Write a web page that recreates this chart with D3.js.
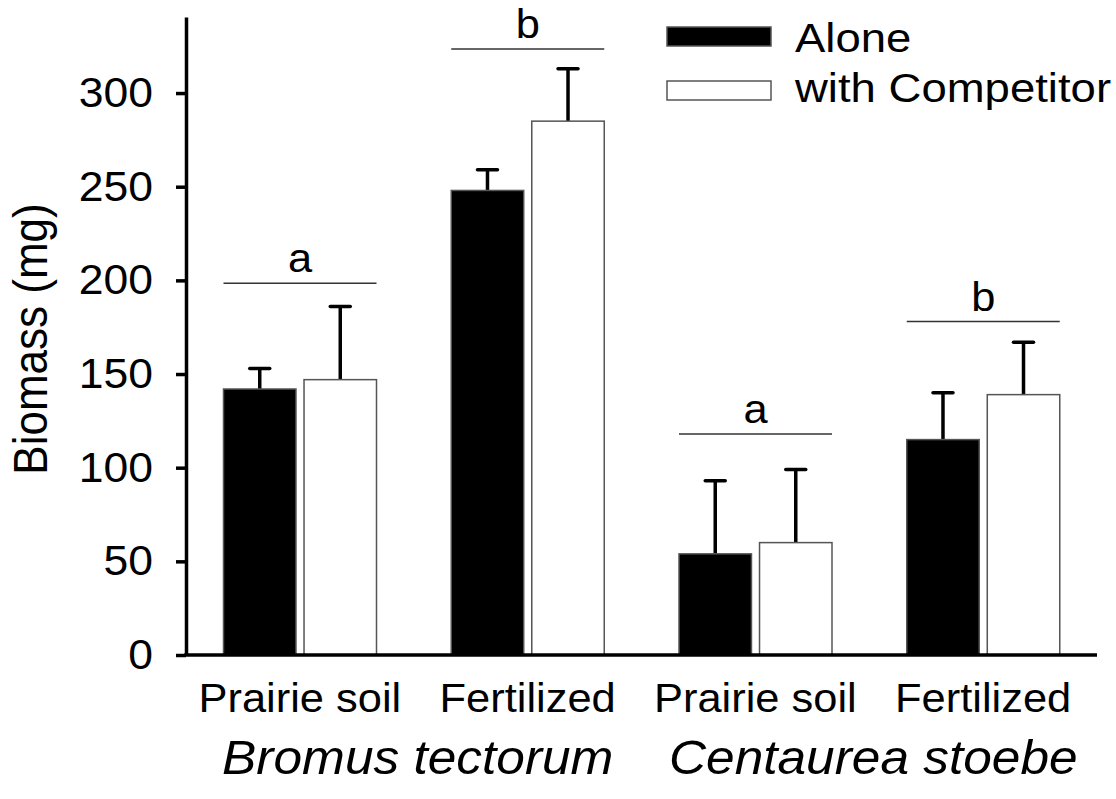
<!DOCTYPE html>
<html>
<head>
<meta charset="utf-8">
<script src="https://cdn.jsdelivr.net/npm/d3@7"></script>
<style>
	body { margin: 0; background: #fff; }
	text { font-family: "Liberation Sans", Arial, sans-serif; fill: #000; }
</style>
</head>
<body>
<div id="chart"></div>
<script>
// data
var groups = ["bt-prairie", "bt-fert", "cs-prairie", "cs-fert"];
var groupLabels = ["Prairie soil", "Fertilized", "Prairie soil", "Fertilized"];
var series = ["Alone", "with Competitor"];
var alone = [142, 248, 54, 115];
var aloneErr = [11, 11, 39, 25];
var competitor = [147, 285, 60, 139];
var competitorErr = [39, 28, 39, 28];
var sigLetters = ["a", "b", "a", "b"];
var sigLevel = [198.5, 323.5, 118, 178];
var species = ["Bromus tectorum", "Centaurea stoebe"];
var yTicks = [0, 50, 100, 150, 200, 250, 300];

function draw() {
	var width = 1116,
		height = 799;
	var mLeft = 186, mRight = 1097, mTop = 17, mBottom = 655;

	var svg = d3.select("#chart")
		.append("svg")
		.attr("width", width)
		.attr("height", height);

	var y = d3.scaleLinear().domain([0, 340.6]).range([mBottom, mTop]);
	var x0 = d3.scaleBand().domain(groups).range([mLeft, mRight]);
	var x1 = d3.scaleBand().domain(series).range([37.5, 190.5]).paddingInner(0.1);
	var fills = {"Alone": "#000", "with Competitor": "#fff"};

	// one row per bar
	var bars = [];
	groups.forEach(function (g, i) {
		bars.push({group: g, s: "Alone", v: alone[i], e: aloneErr[i]});
		bars.push({group: g, s: "with Competitor", v: competitor[i], e: competitorErr[i]});
	});

	var mid = function (d) { return x0(d.group) + x1(d.s) + x1.bandwidth() / 2; };

	// error bars (up only)
	svg.selectAll(".err")
		.data(bars)
		.enter()
		.append("line")
		.attr("x1", mid)
		.attr("x2", mid)
		.attr("y1", function (d) { return y(d.v); })
		.attr("y2", function (d) { return y(d.v + d.e); })
		.attr("stroke", "#000")
		.attr("stroke-width", 3.5);
	svg.selectAll(".cap")
		.data(bars)
		.enter()
		.append("line")
		.attr("x1", function (d) { return mid(d) - 10; })
		.attr("x2", function (d) { return mid(d) + 10; })
		.attr("y1", function (d) { return y(d.v + d.e); })
		.attr("y2", function (d) { return y(d.v + d.e); })
		.attr("stroke", "#000")
		.attr("stroke-width", 3.5)
		.attr("stroke-linecap", "round");

	svg.selectAll(".bar")
		.data(bars)
		.enter()
		.append("rect")
		.attr("x", function (d) { return x0(d.group) + x1(d.s); })
		.attr("y", function (d) { return y(d.v); })
		.attr("width", x1.bandwidth())
		.attr("height", function (d) { return y(0) - y(d.v); })
		.attr("fill", function (d) { return fills[d.s]; })
		.attr("stroke", "#555")
		.attr("stroke-width", 1.5);

	// significance lines + letters
	groups.forEach(function (grp, i) {
		var xa = x0(grp) + x1("Alone");
		var xb = x0(grp) + x1("with Competitor") + x1.bandwidth();
		svg.append("line")
			.attr("x1", xa).attr("x2", xb)
			.attr("y1", y(sigLevel[i])).attr("y2", y(sigLevel[i]))
			.attr("stroke", "#333")
			.attr("stroke-width", 1.5);
		svg.append("text")
			.attr("transform", "translate(" + (xa + xb) / 2 + "," + (y(sigLevel[i]) - 11) + ") scale(1.06,1)")
			.attr("text-anchor", "middle")
			.style("font-size", "41px")
			.text(sigLetters[i]);
	});

	// y axis
	var yAxis = svg.append("g")
		.attr("transform", "translate(" + mLeft + ",0)")
		.call(d3.axisLeft(y).tickValues(yTicks).tickSize(10).tickSizeOuter(0).tickPadding(23));
	yAxis.select(".domain").attr("stroke-width", 3.5);
	yAxis.selectAll(".tick line").attr("stroke-width", 3.5);
	yAxis.selectAll(".tick text")
		.style("font-size", "42px")
		.attr("font-family", null)
		.attr("transform", "scale(1.06,1)")
		.attr("x", -33 / 1.06);

	// x axis line
	svg.append("line")
		.attr("x1", mLeft - 1.75).attr("x2", mRight)
		.attr("y1", y(0)).attr("y2", y(0))
		.attr("stroke", "#000")
		.attr("stroke-width", 3.5);

	// group labels
	svg.selectAll(".glab")
		.data(groups)
		.enter()
		.append("text")
		.attr("transform", function (d) { return "translate(" + (x0(d) + x0.bandwidth() / 2) + ",712) scale(1.06,1)"; })
		.attr("text-anchor", "middle")
		.style("font-size", "41px")
		.text(function (d, i) { return groupLabels[i]; });

	// species labels
	svg.selectAll(".spec")
		.data(species)
		.enter()
		.append("text")
		.attr("transform", function (d, i) {
			var cx = (x0(groups[i * 2]) + x0(groups[i * 2 + 1]) + x0.bandwidth()) / 2 + 4;
			return "translate(" + cx + ",774) scale(1.06,1)";
		})
		.attr("text-anchor", "middle")
		.style("font-size", "48.5px")
		.style("font-style", "italic")
		.text(function (d) { return d; });

	// y title
	svg.append("text")
		.attr("transform", "translate(47,339) scale(1.08,1) rotate(-90)")
		.attr("text-anchor", "middle")
		.style("font-size", "44px")
		.text("Biomass (mg)");

	// legend
	var legend = svg.selectAll(".legend")
		.data(series)
		.enter()
		.append("g");
	legend.append("rect")
		.attr("x", 667)
		.attr("y", function (d, i) { return 27 + i * 54; })
		.attr("width", 104)
		.attr("height", 19)
		.attr("fill", function (d) { return fills[d]; })
		.attr("stroke", "#555")
		.attr("stroke-width", 1.5);
	legend.append("text")
		.attr("transform", function (d, i) { return "translate(795," + (52 + i * 50) + ") scale(1.11,1)"; })
		.style("font-size", "41px")
		.text(function (d) { return d; });
}

draw();
</script>
</body>
</html>
